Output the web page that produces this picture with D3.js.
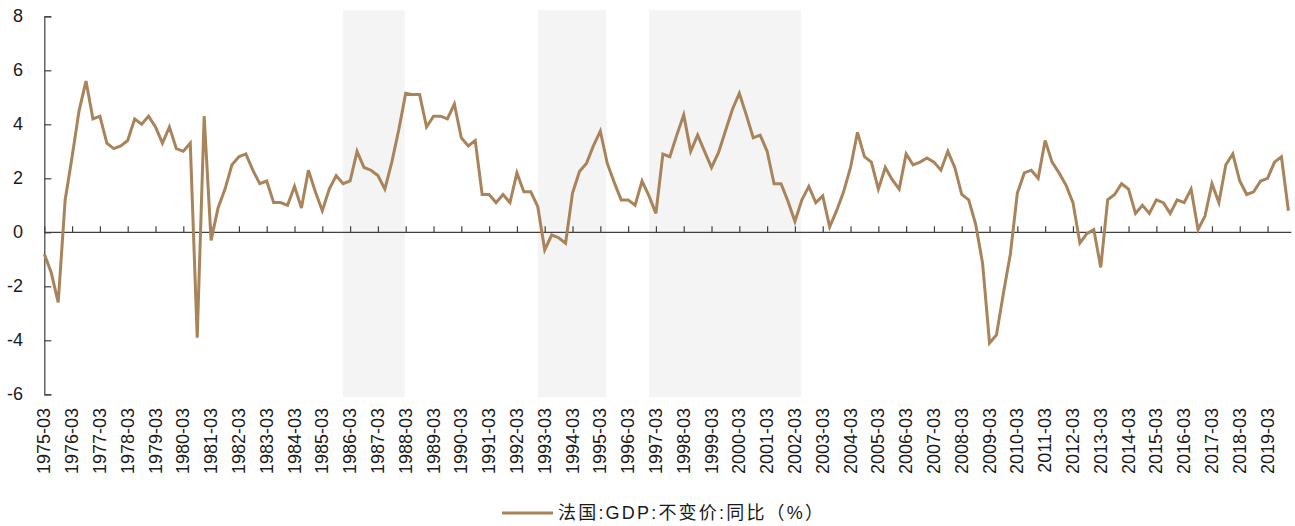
<!DOCTYPE html>
<html lang="zh">
<head>
    <meta charset="UTF-8">
    <title>法国GDP不变价同比</title>
    <script src="https://d3js.org/d3.v7.min.js"></script>
    <style>
        body {
            margin: 0;
            background: #fff;
            font-family: "Liberation Sans", Arial, "Noto Sans CJK SC", sans-serif;
        }
    </style>
</head>
<body>
<div id="chart"></div>
<script>
    // quarterly data, 1975-03 .. 2019-12
    var firstYear = 1975, lastYear = 2019;
    var quarterMonths = ["03", "06", "09", "12"];

    var gdpYoy = [
        -0.8, -1.5, -2.6, 1.2, 2.8, 4.5, 5.6, 4.2, 4.3, 3.3, 3.1, 3.2, 3.4, 4.2, 4.0, 4.3,
        3.9, 3.3, 3.9, 3.1, 3.0, 3.3, -3.9, 4.3, -0.3, 0.9, 1.6, 2.5, 2.8, 2.9, 2.3, 1.8,
        1.9, 1.1, 1.1, 1.0, 1.7, 0.9, 2.3, 1.5, 0.8, 1.6, 2.1, 1.8, 1.9, 3.0, 2.4, 2.3,
        2.1, 1.6, 2.6, 3.8, 5.15, 5.1, 5.1, 3.9, 4.3, 4.3, 4.2, 4.75, 3.5, 3.2, 3.4, 1.4,
        1.4, 1.1, 1.4, 1.1, 2.2, 1.5, 1.5, 0.95, -0.65, -0.1, -0.2, -0.4, 1.45, 2.25, 2.55, 3.2,
        3.75, 2.55, 1.85, 1.2, 1.2, 1.0, 1.9, 1.35, 0.7, 2.9, 2.8, 3.6, 4.35, 3.0, 3.6, 3.0,
        2.4, 2.95, 3.75, 4.55, 5.15, 4.35, 3.5, 3.6, 3.0, 1.8, 1.8, 1.15, 0.4, 1.2, 1.7, 1.1,
        1.35, 0.2, 0.8, 1.5, 2.4, 3.7, 2.8, 2.6, 1.6, 2.4, 1.95, 1.6, 2.9, 2.5, 2.6, 2.75,
        2.6, 2.3, 3.0, 2.4, 1.4, 1.2, 0.3, -1.15, -4.1, -3.8, -2.25, -0.8, 1.45, 2.2, 2.3, 2.0,
        3.4, 2.6, 2.2, 1.75, 1.1, -0.4, -0.05, 0.1, -1.3, 1.2, 1.4, 1.8, 1.6, 0.7, 1.0, 0.7,
        1.2, 1.1, 0.7, 1.2, 1.1, 1.6, 0.1, 0.6, 1.8, 1.1, 2.5, 2.9, 1.9, 1.4, 1.5, 1.9,
        2.0, 2.6, 2.8, 0.8
    ];

    // shaded periods (start quarter, end quarter)
    var shadeStart = ["1985-12", "1992-12", "1996-12"];
    var shadeEnd = ["1988-03", "1995-06", "2002-06"];

    var yTicks = [-6, -4, -2, 0, 2, 4, 6, 8];
    var seriesName = "法国:GDP:不变价:同比（%）";

    var quarters = [];
    for (var yr = firstYear; yr <= lastYear; yr++) {
        quarterMonths.forEach(function(m) { quarters.push(yr + "-" + m); });
    }
    var yearTicks = quarters.filter(function(q) { return q.slice(5) == "03"; });

    var data = quarters.map(function(q, i) { return {q: q, v: gdpYoy[i]}; });

    var width = 1295, height = 526;
    var lineColor = "#a9845a";

    var svg = d3.select("#chart").append("svg")
        .attr("width", width)
        .attr("height", height);

    var x = d3.scalePoint()
        .domain(quarters)
        .range([44.3, 1288.4]);

    var y = d3.scaleLinear()
        .domain([-6, 8])
        .range([394.3, 16.3]);

    // shaded bands
    svg.append("g")
        .selectAll("rect")
        .data(shadeStart)
        .enter()
        .append("rect")
        .attr("x", function(d) { return x(d); })
        .attr("width", function(d, i) { return x(shadeEnd[i]) - x(d) - 1; })
        .attr("y", y(8) - 6)
        .attr("height", y(-6) - y(8) + 9)
        .attr("fill", "#f4f4f4");

    // y axis
    var yAxis = svg.append("g")
        .attr("transform", "translate(" + x(quarters[0]) + ",0)")
        .call(d3.axisRight(y).tickValues(yTicks).tickSize(7).tickFormat(""));
    yAxis.select(".domain").attr("stroke", "#404040").attr("stroke-width", 1.2);
    yAxis.selectAll(".tick line").attr("stroke", "#404040").attr("stroke-width", 1.2);

    svg.append("g")
        .selectAll("text")
        .data(yTicks)
        .enter()
        .append("text")
        .attr("x", 23)
        .attr("y", function(d) { return y(d); })
        .attr("text-anchor", "end")
        .attr("dominant-baseline", "central")
        .style("font-size", "18px")
        .attr("fill", "#1a1a1a")
        .text(function(d) { return d; });

    // zero line with year ticks pointing up
    var xAxis = svg.append("g")
        .attr("transform", "translate(0," + y(0) + ")")
        .call(d3.axisTop(x).tickValues(yearTicks).tickSize(6).tickSizeOuter(0).tickFormat(""));
    xAxis.select(".domain")
        .attr("d", "M" + x(quarters[0]) + ",0H" + (x(quarters[quarters.length - 1]) + 3))
        .attr("stroke", "#404040").attr("stroke-width", 1.2);
    xAxis.selectAll(".tick line").attr("stroke", "#404040").attr("stroke-width", 1.2);

    // rotated year labels at the bottom
    svg.append("g")
        .selectAll("text")
        .data(yearTicks)
        .enter()
        .append("text")
        .attr("transform", function(d) { return "translate(" + x(d) + ",408) rotate(-90)"; })
        .attr("text-anchor", "end")
        .attr("dominant-baseline", "central")
        .style("font-size", "18px")
        .attr("fill", "#1a1a1a")
        .text(function(d) { return d; });

    // the series
    svg.append("path")
        .datum(data)
        .attr("fill", "none")
        .attr("stroke", lineColor)
        .attr("stroke-width", 3)
        .attr("stroke-linejoin", "miter")
        .attr("d", d3.line()
            .x(function(d) { return x(d.q); })
            .y(function(d) { return y(d.v); }));

    // legend
    var legend = svg.append("g").attr("transform", "translate(502,513)");
    legend.append("line")
        .attr("x1", 0).attr("x2", 51)
        .attr("stroke", lineColor)
        .attr("stroke-width", 3);
    legend.append("text")
        .attr("x", 56)
        .attr("dominant-baseline", "central")
        .style("font-size", "18px")
        .style("letter-spacing", "2.2px")
        .style("font-family", "'Liberation Sans', Arial, 'Noto Sans CJK SC', sans-serif")
        .attr("fill", "#1a1a1a")
        .text(seriesName);
</script>
</body>
</html>
